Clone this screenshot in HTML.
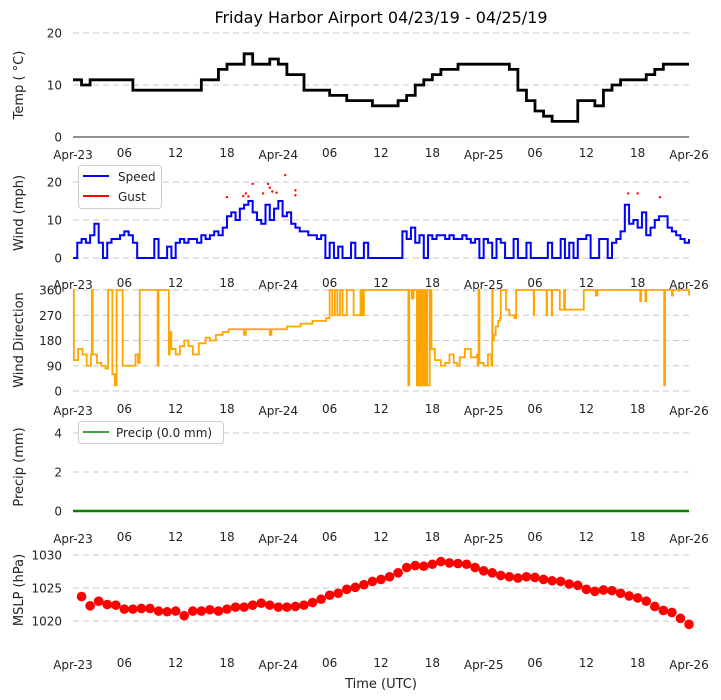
<!DOCTYPE html>
<html><head><meta charset="utf-8"><style>
body{margin:0;background:#fff;}
svg{display:block;font-family:"DejaVu Sans","Liberation Sans",sans-serif;}
</style></head><body>
<svg id="chart" width="721" height="700" viewBox="0 0 721 700" xmlns="http://www.w3.org/2000/svg">
<text x="381" y="23" font-size="16" text-anchor="middle" fill="#000">Friday Harbor Airport 04/23/19 - 04/25/19</text>
</svg>
<script>
const tickHours=[0,6,12,18,24,30,36,42,48,54,60,66,72];
const tickLabels=['Apr-23','06','12','18','Apr-24','06','12','18','Apr-25','06','12','18','Apr-26'];
const tempValues=[11,10,11,11,11,11,11,9,9,9,9,9,9,9,9,11,11,13,14,14,16,14,14,15,14,12,12,9,9,9,8,8,7,7,7,6,6,6,7,8,10,11,12,13,13,14,14,14,14,14,14,13,9,7,5,4,3,3,3,7,7,6,9,10,11,11,11,12,13,14,14,14,14];
const windValues=[0,4,5,4,6,9,4,0,4,5,5,6,7,6,4,0,0,0,0,5,0,0,3,0,4,5,4,5,5,4,6,5,6,7,6,8,11,12,10,13,14,15,12,10,9,14,10,13,15,11,12,9,8,7,7,6,6,5,6,0,4,0,3,0,0,4,0,0,4,0,0,0,0,0,0,0,0,7,5,8,4,6,0,6,5,6,6,5,6,5,5,6,5,4,5,0,5,4,0,5,4,0,0,5,0,0,4,0,0,0,0,4,0,0,5,0,4,0,5,5,6,0,0,5,5,0,4,5,7,14,9,10,8,12,6,8,10,11,11,8,7,6,5,4,5];
const gustTimes=[18,19.9,20.2,20.5,21,22.2,22.8,23,23.3,23.8,24.8,26,26,64.9,66,68.6];
const gustValues=[16,16.3,17,16.2,19.5,17,19.5,18.5,17.5,17.2,21.8,17.8,16.5,17,17,16];
const dirTimes=[0,0.1,0.6,1.1,1.6,2.1,2.2,2.3,2.8,3.3,3.8,4.1,4.6,4.9,5.1,5.8,7.3,7.6,7.8,9.8,9.9,10.0,11.2,11.2,11.3,11.5,12,12.5,13,13.5,14,14.7,15.5,16,16.7,17.5,18.2,20,20.2,22,23,23.2,25,26.6,28,29.6,30,30.3,30.6,30.9,31.2,31.5,32,32.8,33.6,33.8,34,39.1,39.2,39.3,39.6,39.8,40.2,40.4,40.6,40.8,41.0,41.2,41.4,41.7,41.9,42.3,43,43.5,44,44.5,44.9,45.2,45.8,46.5,47.2,47.3,47.4,47.5,48,48.5,48.9,49,49.05,49.2,49.4,49.7,49.9,50,50.6,51,51.6,51.8,53.8,53.85,53.9,55.3,55.35,55.4,55.9,55.95,56,56.8,56.9,57.4,57.5,58,59.6,59.7,61,61.1,61.3,66.2,66.3,66.4,66.8,66.9,67,69.05,69.1,69.2,70,70.1,72];
const dirValues=[360,110,150,130,90,130,360,130,100,90,80,360,60,20,360,90,130,100,360,360,90,360,360,130,210,150,130,160,180,160,130,170,190,180,200,210,220,200,220,220,200,220,230,240,250,260,360,270,360,270,360,270,360,270,360,270,360,360,20,360,330,360,20,360,20,360,20,360,20,360,150,110,90,100,130,100,90,120,150,120,130,90,360,100,90,130,90,360,180,200,230,250,260,360,290,270,260,360,360,270,360,360,270,360,360,270,360,360,290,360,290,290,290,360,360,340,360,360,320,360,360,320,360,360,20,360,340,360,340];
const precipValues=[0,0,0,0,0,0,0,0,0,0,0,0,0,0,0,0,0,0,0,0,0,0,0,0,0,0,0,0,0,0,0,0,0,0,0,0,0,0,0,0,0,0,0,0,0,0,0,0,0,0,0,0,0,0,0,0,0,0,0,0,0,0,0,0,0,0,0,0,0,0,0,0,0];
const pressureValues=[1023.7,1022.3,1023.0,1022.5,1022.4,1021.8,1021.8,1021.9,1021.9,1021.5,1021.4,1021.5,1020.8,1021.5,1021.5,1021.7,1021.5,1021.8,1022.1,1022.1,1022.4,1022.7,1022.4,1022.1,1022.1,1022.2,1022.4,1022.8,1023.3,1023.9,1024.2,1024.8,1025.1,1025.5,1026.0,1026.3,1026.7,1027.3,1028.1,1028.4,1028.3,1028.6,1029.0,1028.8,1028.7,1028.6,1028.1,1027.6,1027.3,1026.9,1026.7,1026.5,1026.7,1026.6,1026.3,1026.1,1026.0,1025.6,1025.4,1024.8,1024.5,1024.7,1024.6,1024.2,1023.8,1023.5,1023.0,1022.2,1021.6,1021.3,1020.4,1019.5];

const svg=document.getElementById('chart');
const NS='http://www.w3.org/2000/svg';
const X0=73,X1=689;
function xs(h){return X0+h*(X1-X0)/72;}
function mk(tag,attrs,parent){const e=document.createElementNS(NS,tag);for(const k in attrs)e.setAttribute(k,attrs[k]);(parent||svg).appendChild(e);return e;}
function yScale(v0,p0,v1,p1){return v=>p0+(v-v0)*(p1-p0)/(v1-v0);}

function panel(name,ys,yticks,ylabel,labelY,tickY){
  const g=mk('g',{});
  
  
  yticks.forEach(t=>{
    const y=ys(t);
    const l=mk('line',{x1:X0,x2:X1,y1:y,y2:y,stroke:'#c8c8c8','stroke-dasharray':'6,4','stroke-width':1},g);
    
    
    const tx=mk('text',{x:62,y:y+4.5,'font-size':12,'text-anchor':'end',fill:'#222'},g);
    
    
    tx.textContent=t;
  });
  tickHours.forEach((h,i)=>{
    const isDay=tickLabels[i].startsWith('Apr');
    const tx=mk('text',{x:xs(h),y:tickY+(isDay?2:0),'font-size':12,'text-anchor':'middle',fill:'#222'},g);
    
    
    tx.textContent=tickLabels[i];
  });
  const yl=mk('text',{x:0,y:0,'font-size':13,'text-anchor':'middle',fill:'#222',transform:'translate(23,'+labelY+') rotate(-90)'},g);
  
  
  yl.textContent=ylabel;
  return g;
}

// Temperature
const yT=yScale(0,137,20,33);
const gT=panel('temp',yT,[0,10,20],'Temp ( \u00B0C)',85,157);
const sp=mk('line',{x1:X0,x2:X1,y1:137,y2:137,stroke:'#222','stroke-width':1},gT);


let d='';
tempValues.forEach((v,i)=>{const x=xs(i),y=yT(v);d+=(i?'H'+x+'V'+y:'M'+x+' '+y);});
const tl=mk('path',{d:d,fill:'none',stroke:'#000','stroke-width':2.8},gT);



// Wind
const yW=yScale(0,258,20,182);
const gW=panel('wind',yW,[0,10,20],'Wind (mph)',213,287);
d='';
windValues.forEach((v,i)=>{const x=xs(i/2),y=yW(v);d+=(i?'H'+x+'V'+y:'M'+x+' '+y);});
const wl=mk('path',{d:d,fill:'none',stroke:'#0000ff','stroke-width':2},gW);


gustTimes.forEach((t,i)=>{
  const c=mk('circle',{cx:xs(t),cy:yW(gustValues[i]),r:1.2,fill:'#ff0000'},gW);
  
  
});
const lg=mk('g',{},gW);


mk('rect',{x:78.5,y:165.5,width:83,height:43,rx:3,fill:'#fff',stroke:'#ccc'},lg);
mk('line',{x1:83,x2:109,y1:176,y2:176,stroke:'#0000ff','stroke-width':2},lg);
mk('line',{x1:83,x2:109,y1:196,y2:196,stroke:'#ff0000','stroke-width':2},lg);
const l1=mk('text',{x:118,y:181,'font-size':12,fill:'#222'},lg);


l1.textContent='Speed';
const l2=mk('text',{x:118,y:201,'font-size':12,fill:'#222'},lg);


l2.textContent='Gust';

// Direction
const yD=yScale(0,391,360,290);
const gD=panel('wind-direction',yD,[0,90,180,270,360],'Wind Direction',340,413);
d='';
dirTimes.forEach((t,i)=>{const x=xs(t),y=yD(dirValues[i]);d+=(i?'H'+x+'V'+y:'M'+x+' '+y);});
const dl=mk('path',{d:d,fill:'none',stroke:'#ffa500','stroke-width':1.8},gD);



// Precip
const yP=yScale(0,511,4,433);
const gP=panel('precip',yP,[0,2,4],'Precip (mm)',467,541);
d='';
precipValues.forEach((v,i)=>{d+=(i?'L':'M')+xs(i)+' '+yP(v);});
const pl=mk('path',{d:d,fill:'none',stroke:'#008000','stroke-width':2.6},gP);


const lg2=mk('g',{},gP);


mk('rect',{x:78.5,y:421.5,width:145,height:22,rx:3,fill:'#fff',stroke:'#ccc'},lg2);
mk('line',{x1:83,x2:109,y1:432,y2:432,stroke:'#008000','stroke-width':1.5},lg2);
const l3=mk('text',{x:116,y:437,'font-size':12,fill:'#222'},lg2);


l3.textContent='Precip (0.0 mm)';

// Pressure
const yM=yScale(1020,621,1030,555);
const gM=panel('mslp',yM,[1020,1025,1030],'MSLP (hPa)',590,667);
pressureValues.forEach((v,i)=>{
  const c=mk('circle',{cx:xs(i+1),cy:yM(v),r:4.8,fill:'#ff0000'},gM);
  
  
});
const xt=mk('text',{x:381,y:688,'font-size':13,'text-anchor':'middle',fill:'#222'});


xt.textContent='Time (UTC)';
</script>
</body></html>
